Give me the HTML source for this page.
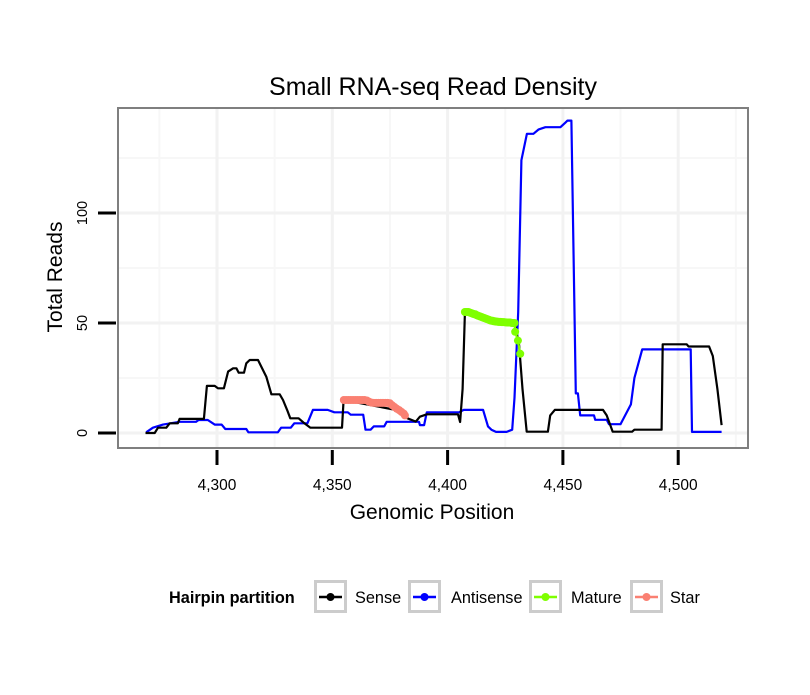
<!DOCTYPE html>
<html><head><meta charset="utf-8"><style>
body{margin:0;background:#fff;font-family:"Liberation Sans",sans-serif;}
svg text{font-family:"Liberation Sans",sans-serif;}
</style></head><body>
<svg id="chart" width="810" height="690" viewBox="0 0 810 690" xmlns="http://www.w3.org/2000/svg">
<rect width="810" height="690" fill="#fff"/>
<text x="433" y="95" text-anchor="middle" font-size="25">Small RNA-seq Read Density</text>
<g id="grid"></g>
<g id="series"></g>
<rect x="118" y="108" width="630" height="340" fill="none" stroke="#7f7f7f" stroke-width="2"/>
<g id="axes"></g>
<text x="432" y="519" text-anchor="middle" font-size="21">Genomic Position</text>
<text transform="translate(62,277) rotate(-90)" text-anchor="middle" font-size="21">Total Reads</text>
<g>
<text x="169" y="603" font-size="16.3" font-weight="bold">Hairpin partition</text>
<g id="legend-keys"></g>
</g>
</svg>
<script>
const xTicks=[4300,4350,4400,4450,4500];
const xTickLabels=["4,300","4,350","4,400","4,450","4,500"];
const yTicks=[0,50,100];
const yTickLabels=["0","50","100"];
const seriesNames=["Sense","Antisense","Mature","Star"];
const seriesColors=["#000000","#0000ff","#7fff00","#fa8072"];
const sensePos=[4269,4273,4274.4,4278,4279.5,4283,4283.8,4294.3,4295.6,4299,4300.4,4303,4304.8,4307,4308.4,4309.4,4311.7,4312.7,4314.2,4317.8,4321.4,4323.6,4327.2,4328.6,4330.4,4331.8,4335.4,4337.6,4340.5,4354.2,4354.9,4380,4382.6,4386.2,4388,4391,4400,4404.5,4405.4,4406.5,4407.5,4420,4429,4431,4432.5,4434.3,4443.5,4444.5,4446.5,4467.4,4469,4471.6,4480,4481,4492.8,4493.3,4503.7,4504.5,4513.4,4515,4517,4518.8];
const senseReads=[0,0,2.4,2.4,4.4,4.4,6.4,6.4,21.4,21.4,20.3,20.3,27.9,29.4,29.4,27.4,27.4,31.7,33.2,33.2,25.6,17.6,17.6,15,10.5,6.7,6.7,4.7,2.4,2.4,15,10,6.7,5.2,7.4,8.5,8.5,8.5,5,20,54.5,52,50,40,20,0.6,0.6,8,10.5,10.5,8,0.6,0.6,1.5,1.5,40.3,40.3,39.3,39.3,35,20,3.6];
const antiPos=[4269.3,4272.2,4276.6,4283.8,4290.9,4292,4296,4299,4302,4303.6,4312.7,4313.6,4326.4,4327.8,4332,4333.5,4339.2,4341.6,4348,4350.9,4356.7,4358,4363.4,4364.4,4366.6,4368,4372.5,4373.6,4387.6,4388,4389.8,4391,4405,4407,4415.4,4417.5,4419,4421,4425.6,4428,4429,4430.6,4432,4434.4,4437.2,4439.5,4442.4,4448.9,4451,4452,4453.7,4455.6,4456.5,4457.5,4463.5,4464,4469,4470,4475,4479.5,4481,4484.4,4505.4,4506,4518.8];
const antiReads=[0.3,2.4,3.8,5.1,5.1,5.9,5.9,3.8,3.8,1.8,1.8,0.3,0.3,2.4,2.4,4.4,4.4,10.5,10.5,9.4,9.4,8.3,8.3,1.5,1.5,3,3,5.1,5.1,3.6,3.6,9.4,9.4,10.5,10.5,3,1.5,0.5,0.5,1.5,16,55,124,136,136,138,139,139,141,142,142,18,18,8,8,6,6,4,4,13,25,38,38,0.5,0.5];
const maturePos=[4407.5,4408,4408.5,4409,4409.5,4410,4410.5,4411,4411.5,4412,4412.5,4413,4413.5,4414,4414.5,4415,4415.5,4416,4416.5,4417,4417.5,4418,4418.5,4419,4419.5,4420,4420.5,4421,4421.5,4422,4422.5,4423,4423.5,4424,4424.5,4425,4425.5,4426,4426.5,4427,4427.5,4428,4428.5,4429,4429.3,4430.5,4431.5];
const matureReads=[55,55,55,55,54.8,54.6,54.4,54.2,54,54,53.6,53.4,53.2,53,52.8,52.6,52.4,52.2,52,51.8,51.6,51.4,51.2,51,51,50.8,50.8,50.6,50.6,50.5,50.5,50.5,50.4,50.4,50.4,50.3,50.3,50.2,50.2,50.2,50.1,50,50,50,46,42,36];
const starPos=[4355,4356,4357,4358,4359,4360,4361,4362,4363,4364,4365,4366,4367,4368,4369,4370,4371,4372,4373,4374,4375,4376,4377,4378,4379,4380,4381,4381.5];
const starReads=[15,15,15,15,15,15,15,15,15,15,14.8,14.2,13.8,13.7,13.7,13.7,13.7,13.7,13.7,13.7,13.5,12.6,11.8,11,10.4,9.6,8.8,8];

const NS="http://www.w3.org/2000/svg";
const X0=118,X1=748,Y0=108,Y1=448;
function xs(v){return 217+(v-4300)*2.306;}
function ys(v){return 433-v*2.2;}
function mk(tag,attrs,parent){const e=document.createElementNS(NS,tag);for(const k in attrs)e.setAttribute(k,attrs[k]);parent.appendChild(e);return e;}
const grid=document.getElementById('grid'),axes=document.getElementById('axes'),ser=document.getElementById('series');
for(let i=0;i<xTicks.length+1;i++){const v=xTicks[0]-25+i*50;const px=xs(v);if(px>X0&&px<X1){const l=mk('line',{x1:px,x2:px,y1:Y0,y2:Y1,stroke:'#f7f7f7','stroke-width':2},grid);}}
[25,75,125].forEach(v=>{const l=mk('line',{x1:X0,x2:X1,y1:ys(v),y2:ys(v),stroke:'#f7f7f7','stroke-width':2},grid);});
xTicks.forEach((v,i)=>{const px=xs(v);
const g=mk('line',{x1:px,x2:px,y1:Y0,y2:Y1,stroke:'#f2f2f2','stroke-width':3},grid);
const t=mk('line',{x1:px,x2:px,y1:450,y2:465,stroke:'#000','stroke-width':3},axes);
const tx=mk('text',{x:px,y:490,'text-anchor':'middle','font-size':15.5},axes);tx.textContent=xTickLabels[i];});
yTicks.forEach((v,i)=>{const py=ys(v);
const g=mk('line',{x1:X0,x2:X1,y1:py,y2:py,stroke:'#f2f2f2','stroke-width':3},grid);
const t=mk('line',{x1:98,x2:116,y1:py,y2:py,stroke:'#000','stroke-width':3},axes);
const tx=mk('text',{transform:`translate(87,${py}) rotate(-90)`,'text-anchor':'middle','font-size':14.5},axes);tx.textContent=yTickLabels[i];});
function line(pos,vals,color,name){const d=pos.map((p,i)=>xs(p).toFixed(1)+','+ys(vals[i]).toFixed(1)).join(' ');const l=mk('polyline',{points:d,fill:'none',stroke:color,'stroke-width':2.2,'stroke-linejoin':'round'},ser);}
function pts(pos,vals,color,name){pos.forEach((p,i)=>{const c=mk('circle',{cx:xs(p),cy:ys(vals[i]),r:4,fill:color},ser);});}
line(antiPos,antiReads,seriesColors[1],'antisense-line');
line(sensePos,senseReads,seriesColors[0],'sense-line');
line(starPos,starReads,seriesColors[3],'star-line');pts(starPos,starReads,seriesColors[3],'star-point');
line(maturePos,matureReads,seriesColors[2],'mature-line');pts(maturePos,matureReads,seriesColors[2],'mature-point');
const lk=document.getElementById('legend-keys');
const keyX=[314,408,529,630],labX=[355,451,571,670];
seriesNames.forEach((n,i)=>{const g=mk('g',{},lk);
mk('rect',{x:keyX[i]+1.5,y:581.5,width:30,height:30,fill:'#fff',stroke:'#cccccc','stroke-width':3},g);
mk('line',{x1:keyX[i]+5,x2:keyX[i]+28,y1:597,y2:597,stroke:seriesColors[i],'stroke-width':2.5},g);
mk('circle',{cx:keyX[i]+16.5,cy:597,r:4,fill:seriesColors[i]},g);
const t=mk('text',{x:labX[i],y:603,'font-size':16.3},g);t.textContent=n;});
</script>
</body></html>
